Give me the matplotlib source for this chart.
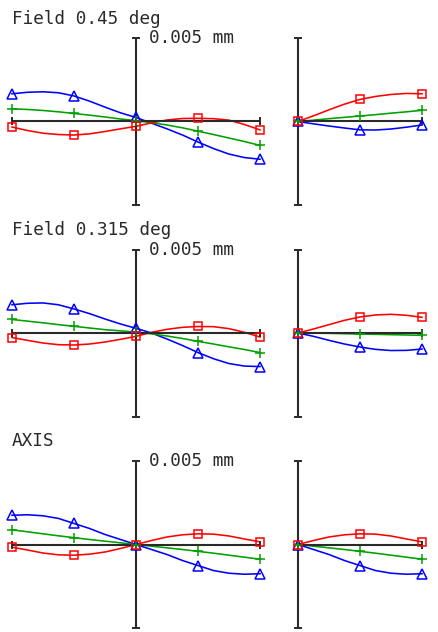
import numpy as np
import matplotlib
matplotlib.use("Agg")
import matplotlib.pyplot as plt

# ---------------------------------------------------------------------------
# Ray fan data (transverse aberration, micrometres)
# Tangential fans: pupil -1 .. 1 in steps of 0.125 (17 samples)
# Sagittal fans:   pupil  0 .. 1 in steps of 0.125 (9 samples)
# ---------------------------------------------------------------------------
pupil_tan = np.linspace(-1.0, 1.0, 17)
pupil_sag = np.linspace(0.0, 1.0, 9)

field_labels = ["Field 0.45 deg", "Field 0.315 deg", "AXIS"]
scale_label = "0.005 mm"
scale_um = 5.0

# Field 0.45 deg
tan_045_blue = [1.66, 1.75, 1.78, 1.72, 1.53, 1.22, 0.86, 0.52, 0.24, -0.10,
                -0.44, -0.81, -1.23, -1.62, -1.95, -2.16, -2.26]
tan_045_green = [0.76, 0.72, 0.66, 0.58, 0.48, 0.38, 0.27, 0.15, 0.05, -0.07,
                 -0.21, -0.38, -0.58, -0.78, -0.99, -1.20, -1.43]
tan_045_red = [-0.33, -0.54, -0.70, -0.78, -0.81, -0.74, -0.60, -0.44, -0.29,
               -0.08, 0.09, 0.18, 0.19, 0.17, 0.08, -0.18, -0.50]
sag_045_blue = [0.0, -0.14, -0.27, -0.39, -0.50, -0.51, -0.45, -0.34, -0.21]
sag_045_green = [0.0, 0.08, 0.17, 0.25, 0.33, 0.41, 0.50, 0.58, 0.67]
sag_045_red = [0.0, 0.34, 0.70, 1.04, 1.32, 1.50, 1.62, 1.68, 1.66]

# Field 0.315 deg
tan_0315_blue = [1.69, 1.78, 1.80, 1.69, 1.44, 1.16, 0.84, 0.54, 0.28, 0.0,
                 -0.36, -0.75, -1.17, -1.54, -1.83, -1.98, -2.01]
tan_0315_green = [0.81, 0.71, 0.61, 0.50, 0.40, 0.30, 0.20, 0.13, 0.05, -0.05,
                  -0.18, -0.33, -0.50, -0.66, -0.83, -0.99, -1.17]
tan_0315_red = [-0.27, -0.44, -0.60, -0.70, -0.72, -0.66, -0.54, -0.38, -0.20,
                0.04, 0.22, 0.34, 0.39, 0.38, 0.26, 0.04, -0.24]
sag_0315_blue = [0.0, -0.20, -0.44, -0.66, -0.84, -0.98, -1.05, -1.04, -0.96]
sag_0315_green = [0.0, -0.01, -0.02, -0.04, -0.06, -0.08, -0.10, -0.12, -0.14]
sag_0315_red = [0.0, 0.24, 0.50, 0.76, 0.96, 1.08, 1.12, 1.06, 0.94]

# On axis
tan_axis_blue = [1.75, 1.78, 1.72, 1.56, 1.26, 0.96, 0.60, 0.30, 0.0, -0.30,
                 -0.60, -0.96, -1.26, -1.56, -1.72, -1.78, -1.75]
tan_axis_green = [0.88, 0.76, 0.64, 0.52, 0.41, 0.30, 0.20, 0.10, 0.0, -0.10,
                  -0.20, -0.30, -0.41, -0.52, -0.64, -0.76, -0.88]
tan_axis_red = [-0.16, -0.33, -0.51, -0.62, -0.64, -0.58, -0.45, -0.24, 0.0,
                0.24, 0.45, 0.58, 0.64, 0.62, 0.51, 0.33, 0.16]
sag_axis_blue = [0.0, -0.30, -0.60, -0.96, -1.26, -1.56, -1.72, -1.78, -1.75]
sag_axis_green = [0.0, -0.10, -0.20, -0.30, -0.41, -0.52, -0.64, -0.76, -0.88]
sag_axis_red = [0.0, 0.24, 0.45, 0.58, 0.64, 0.62, 0.51, 0.33, 0.16]

rows = [
    (tan_045_blue, tan_045_green, tan_045_red, sag_045_blue, sag_045_green, sag_045_red),
    (tan_0315_blue, tan_0315_green, tan_0315_red, sag_0315_blue, sag_0315_green, sag_0315_red),
    (tan_axis_blue, tan_axis_green, tan_axis_red, sag_axis_blue, sag_axis_green, sag_axis_red),
]

# ---------------------------------------------------------------------------
# Styling
# ---------------------------------------------------------------------------
W, H = 438, 632
DPI = 100
AX_COLOR = "#2a2a2a"
TXT_COLOR = "#2a2a2a"
BLUE, GREEN, RED = "#0000ff", "#00a000", "#ff0000"
FONT = "DejaVu Sans Mono"
FSIZE = 12.7

wave_styles = [
    dict(color=BLUE, marker="^", ms=6.6),
    dict(color=GREEN, marker="+", ms=7.0),
    dict(color=RED, marker="s", ms=5.8),
]

fig = plt.figure(figsize=(W / DPI, H / DPI), dpi=DPI)
fig.patch.set_facecolor("white")


def px_axes(x0, y0, w, h):
    """Axes placed by pixel box (top-left origin)."""
    return fig.add_axes([x0 / W, 1 - (y0 + h) / H, w / W, h / H])


def draw_frame(ax, xmin, xmax):
    kw = dict(color=AX_COLOR, lw=1.5, clip_on=False, zorder=2,
              solid_capstyle="butt")
    ax.plot([xmin, xmax], [0, 0], **kw)
    ax.plot([0, 0], [-scale_um, scale_um], **kw)
    ax.plot([xmin, xmax], [0, 0], ls="none", marker="|", ms=6.0,
            mew=1.4, color=AX_COLOR, clip_on=False, zorder=2)
    ax.plot([0, 0], [-scale_um, scale_um], ls="none", marker="_", ms=5.5,
            mew=1.4, color=AX_COLOR, clip_on=False, zorder=2)


def draw_fan(ax, x, curves):
    for y, st in zip(curves, wave_styles):
        # smooth trace below the axis lines, symbols on top
        ax.plot(x, y, color=st["color"], lw=1.15, clip_on=False, zorder=1)
        ax.plot(x[::4], y[::4], ls="none", marker=st["marker"], ms=st["ms"],
                mfc="none", mec=st["color"], mew=1.1, clip_on=False, zorder=3)


row_tops = [38, 249.5, 461]
plot_h = 167
for (tb, tg, tr, sb, sg, sr), top, label in zip(rows, row_tops, field_labels):
    ax_t = px_axes(12, top, 248, plot_h)
    ax_t.set_xlim(-1, 1)
    ax_t.set_ylim(-scale_um, scale_um)
    ax_t.set_axis_off()
    draw_frame(ax_t, -1, 1)
    draw_fan(ax_t, pupil_tan, [tb, tg, tr])

    ax_s = px_axes(298, top, 124, plot_h)
    ax_s.set_xlim(0, 1)
    ax_s.set_ylim(-scale_um, scale_um)
    ax_s.set_axis_off()
    draw_frame(ax_s, 0, 1)
    draw_fan(ax_s, pupil_sag, [sb, sg, sr])

    fig.text(12 / W, 1 - (top - 14.5) / H, label, family=FONT,
             fontsize=FSIZE, color=TXT_COLOR, va="baseline", ha="left")
    fig.text(149 / W, 1 - (top + 5.3) / H, scale_label, family=FONT,
             fontsize=FSIZE, color=TXT_COLOR, va="baseline", ha="left")

fig.savefig("out.png", dpi=DPI, facecolor="white")
